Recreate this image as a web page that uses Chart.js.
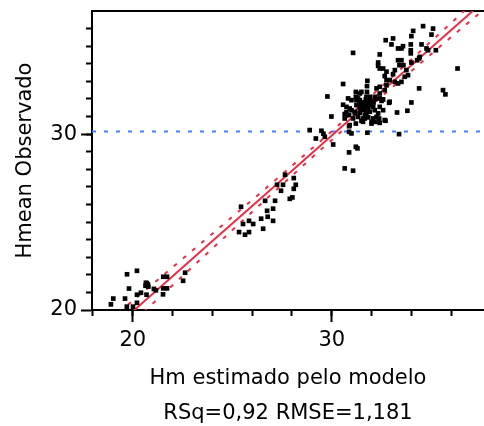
<!DOCTYPE html>
<html>
<head>
<meta charset="utf-8">
<script src="https://cdn.jsdelivr.net/npm/chart.js@4.4.0/dist/chart.umd.min.js"></script>
<style>
  body { margin: 0; background: #fff; }
</style>
</head>
<body>
<canvas id="fit-chart" width="484" height="426"></canvas>
<script>
(function () {
    const lowGroup = [
        [18.90, 20.32], [19.02, 20.65], [19.61, 20.65], [19.70, 20.19], [19.71, 22.03],
        [19.81, 21.22], [20.01, 20.19], [20.21, 20.41], [20.21, 20.87], [20.21, 22.23],
        [20.41, 20.98], [20.69, 20.87], [20.64, 21.38], [20.76, 21.45], [20.70, 21.52],
        [20.66, 21.55], [20.78, 21.33], [21.06, 21.20], [21.16, 21.12], [21.52, 20.89],
        [21.53, 21.23], [21.72, 21.23], [21.53, 21.89], [21.72, 21.89], [22.53, 21.66],
        [22.63, 22.12],
    ];
    const midGroup = [
        [25.44, 25.87], [25.54, 24.89], [25.84, 25.07], [26.05, 24.89], [25.34, 24.43],
        [25.64, 24.28], [25.84, 24.43], [26.45, 25.19], [26.55, 24.62], [26.75, 25.64],
        [26.78, 25.30], [27.05, 25.76], [27.05, 25.07], [26.65, 26.21], [27.15, 26.21],
        [27.25, 27.12], [27.45, 26.78], [27.55, 27.12], [27.65, 27.69], [28.09, 27.50],
        [28.19, 27.12], [28.09, 26.89], [27.89, 26.32], [28.02, 26.40],
    ];
    const highGroup = [
        // around the mean line
        [28.89, 30.23], [29.20, 29.75], [29.48, 30.19], [29.58, 30.02], [29.65, 29.85],
        [30.07, 29.41], [29.98, 31.00], [29.78, 32.14], [30.87, 30.45], [30.87, 30.13],
        [30.99, 30.04], [30.87, 28.96], [30.65, 28.05], [31.07, 27.92], [31.21, 29.28],
        [31.29, 29.19], [31.79, 30.08], [33.38, 30.00],
        // dense cluster
        [30.57, 32.85], [30.57, 31.67], [30.74, 31.55], [30.74, 31.25], [30.90, 31.46],
        [30.87, 31.08], [30.65, 30.89], [30.65, 31.14], [30.90, 30.51], [30.82, 32.03],
        [30.99, 31.93], [30.99, 31.36], [31.07, 30.89], [31.16, 31.18], [31.16, 31.27],
        [31.21, 30.60], [31.21, 32.12], [31.21, 32.40], [31.24, 31.93], [31.24, 31.65],
        [31.32, 32.03], [31.32, 30.98], [31.41, 31.93], [31.41, 31.46], [31.41, 31.21],
        [31.41, 32.31], [31.49, 32.40], [31.49, 31.65], [31.49, 30.76], [31.57, 31.36],
        [31.57, 30.89], [31.57, 30.70], [31.66, 31.55], [31.66, 31.08], [31.66, 30.89],
        [31.71, 31.97], [31.74, 32.12], [31.74, 31.18], [31.77, 31.74], [31.77, 32.40],
        [31.77, 32.73], [31.83, 31.46], [31.83, 30.95], [31.91, 32.12], [31.91, 32.03],
        [31.91, 31.65], [31.91, 31.27], [32.00, 31.84], [32.00, 30.70], [32.00, 30.60],
        [32.08, 31.55], [32.08, 30.89], [32.16, 32.12], [32.16, 31.36], [32.16, 30.70],
        [32.25, 30.98], [32.25, 32.60], [32.33, 30.70], [32.33, 31.18], [32.38, 30.89],
        [32.41, 32.03], [32.41, 31.55], [32.41, 32.31], [32.41, 32.69], [32.41, 30.64],
        [32.50, 31.89], [32.55, 31.97], [32.58, 31.97], [32.58, 31.36], [32.66, 32.50],
        [32.66, 30.80], [32.70, 30.76], [32.75, 32.78], [32.88, 31.78], [32.91, 31.84],
        [31.60, 31.70], [31.70, 31.80], [31.80, 31.60], [31.65, 31.45], [31.75, 31.50],
        [31.55, 31.55], [31.85, 31.85], [31.95, 31.75], [32.10, 31.80], [32.20, 32.00],
        [31.50, 31.80], [31.40, 31.70],
        // right of the cluster
        [33.28, 31.23], [33.80, 31.33], [34.00, 31.80], [34.39, 32.60], [35.59, 32.50],
        [35.71, 32.26], [36.32, 33.73],
        // upper band
        [31.07, 34.62], [31.79, 33.03], [32.33, 34.07], [32.33, 33.88], [32.41, 34.53],
        [32.41, 33.73], [32.58, 33.73], [32.75, 33.55], [32.66, 33.30], [32.75, 33.07],
        [32.91, 33.07], [33.08, 33.41], [33.17, 33.64], [33.17, 32.97], [33.33, 32.88],
        [33.50, 32.97], [33.67, 33.26], [33.83, 33.35], [33.75, 33.64], [33.33, 34.20],
        [33.50, 34.20], [33.40, 33.92], [33.60, 33.92], [34.00, 34.07], [34.29, 34.20],
        [34.39, 34.30], [34.42, 34.39], [33.97, 34.77], [33.97, 34.59], [33.33, 34.87],
        [33.50, 34.87], [33.58, 35.00], [33.00, 35.10], [32.71, 35.34], [33.08, 35.44],
        [33.97, 35.10], [34.00, 35.57], [34.09, 35.87], [34.51, 35.10], [34.59, 36.14],
        [35.09, 36.00], [35.01, 35.66], [34.76, 34.87], [34.84, 34.77], [35.23, 34.77],
    ];

    // fitted line and its confidence band (read at a few x positions)
    const fitX = [17.9, 20, 22, 24, 26, 28, 30, 32, 34, 36, 37.7];
    const fitY = [17.82, 19.92, 21.92, 23.92, 25.92, 27.92, 29.92, 31.92, 33.92, 35.92, 37.62];
    const upperY = [18.54, 20.53, 22.43, 24.34, 26.26, 28.20, 30.17, 32.19, 34.25, 36.32, 38.10];
    const lowerY = [17.10, 19.31, 21.41, 23.50, 25.58, 27.64, 29.67, 31.65, 33.59, 35.52, 37.14];
    const meanY = 30.15;

    const xRange = [17.95, 37.65];
    const yRange = [20, 37];
    const xMajorTicks = [20, 30];
    const xMinorTicks = [18, 20, 22, 24, 26, 28, 30, 32, 34, 36];
    const yMajorTicks = [20, 30];
    const yMinorTicks = [21, 22, 23, 24, 25, 26, 27, 28, 29, 30, 31, 32, 33, 34, 35, 36];

    const xTitle = ['Hm estimado pelo modelo', 'RSq=0,92 RMSE=1,181'];
    const yTitle = 'Hmean Observado';

    const FONT = 'DejaVu Sans';
    const RED = 'rgb(234, 46, 70)';
    const BLUE = 'rgb(70, 125, 255)';

    const toPoints = pairs => pairs.map(([x, y]) => ({x: x, y: y}));
    const linePoints = ys => fitX.map((x, i) => ({x: x, y: ys[i]}));
    const setTicks = values => axis => { axis.ticks = values.map(v => ({value: v})); };

    // fixed axis box sizes, and no label overhang pushing the chart area around
    const fitBox = (width, height) => axis => {
        if (width !== null) axis.width = width;
        if (height !== null) axis.height = height;
        axis.paddingTop = 0;
        axis.paddingBottom = 0;
        axis.paddingLeft = 0;
        axis.paddingRight = 0;
    };

    const lineDataset = (data, dash) => ({
        data: data,
        showLine: true,
        borderColor: RED,
        borderWidth: 2,
        borderDash: dash,
        pointRadius: 0,
        fill: false,
        cubicInterpolationMode: 'monotone',
        order: 2,
    });

    new Chart(document.getElementById('fit-chart'), {
        type: 'scatter',
        data: {
            datasets: [
                {
                    data: toPoints(lowGroup.concat(midGroup, highGroup)),
                    pointStyle: 'rect',
                    pointRadius: 3.3,
                    borderWidth: 0,
                    backgroundColor: '#000',
                    order: 0,
                },
                lineDataset(linePoints(fitY), []),
                lineDataset(linePoints(upperY), [4, 8]),
                lineDataset(linePoints(lowerY), [4, 8]),
                {
                    data: [{x: xRange[0], y: meanY}, {x: xRange[1], y: meanY}],
                    showLine: true,
                    borderColor: BLUE,
                    borderWidth: 2,
                    borderDash: [4, 8],
                    pointRadius: 0,
                    order: 3,
                },
            ],
        },
        options: {
            responsive: false,
            animation: false,
            events: [],
            layout: {autoPadding: false, padding: {top: 11, right: 0, bottom: 0, left: 0}},
            plugins: {legend: {display: false}, tooltip: {enabled: false}},
            scales: {
                x: {
                    type: 'linear',
                    position: 'bottom',
                    min: xRange[0],
                    max: xRange[1],
                    afterBuildTicks: setTicks(xMajorTicks),
                    afterFit: fitBox(null, 116),
                    grid: {drawOnChartArea: false, tickLength: 12, tickWidth: 2, tickColor: '#000'},
                    border: {color: '#000', width: 2},
                    ticks: {color: '#000', padding: 6, maxRotation: 0, font: {family: FONT, size: 21}},
                    title: {
                        display: true,
                        text: xTitle,
                        color: '#000',
                        font: {family: FONT, size: 21, lineHeight: 34.7 / 21},
                        padding: {top: 0, bottom: -4.5},
                    },
                },
                xMinor: {
                    type: 'linear',
                    position: {y: 20},
                    min: xRange[0],
                    max: xRange[1],
                    afterBuildTicks: setTicks(xMinorTicks),
                    afterFit: fitBox(null, null),
                    grid: {drawOnChartArea: false, tickLength: 6, tickWidth: 2, tickColor: '#000'},
                    border: {display: false},
                    ticks: {display: false},
                },
                xTop: {
                    type: 'linear',
                    position: 'top',
                    min: xRange[0],
                    max: xRange[1],
                    afterFit: fitBox(null, 0),
                    grid: {drawOnChartArea: false, drawTicks: false},
                    border: {color: '#000', width: 2},
                    ticks: {display: false},
                },
                y: {
                    type: 'linear',
                    position: 'left',
                    min: yRange[0],
                    max: yRange[1],
                    afterBuildTicks: setTicks(yMajorTicks),
                    afterFit: fitBox(92, null),
                    grid: {drawOnChartArea: false, tickLength: 11, tickWidth: 2, tickColor: '#000'},
                    border: {color: '#000', width: 2},
                    ticks: {color: '#000', padding: 4, font: {family: FONT, size: 21}},
                    title: {
                        display: true,
                        text: yTitle,
                        color: '#000',
                        font: {family: FONT, size: 21},
                        padding: {top: 13, bottom: 0},
                    },
                },
                yMinor: {
                    type: 'linear',
                    position: {x: xRange[0]},
                    min: yRange[0],
                    max: yRange[1],
                    afterBuildTicks: setTicks(yMinorTicks),
                    afterFit: fitBox(null, null),
                    grid: {drawOnChartArea: false, tickLength: 6, tickWidth: 2, tickColor: '#000'},
                    border: {display: false},
                    ticks: {display: false},
                },
            },
        },
    });
})();
</script>
</body>
</html>
